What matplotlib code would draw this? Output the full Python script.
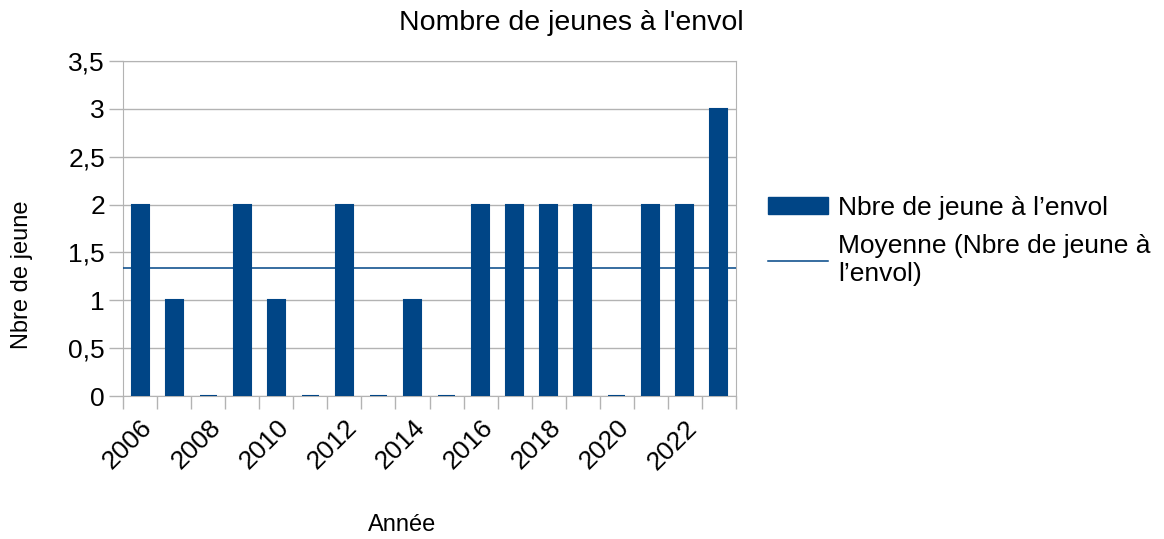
import numpy as np
import matplotlib.pyplot as plt
from matplotlib.ticker import FuncFormatter, FixedLocator
from matplotlib.lines import Line2D
from matplotlib.patches import Patch

plt.rcParams['font.family'] = ['Liberation Sans', 'DejaVu Sans']

years = list(range(2006, 2024))
jeunes = [2, 1, 0, 2, 1, 0, 2, 0, 1, 0, 2, 2, 2, 2, 0, 2, 2, 3]
moyenne = np.mean(jeunes)

bar_color = '#004586'
grid_color = '#b3b3b3'

fig = plt.figure(figsize=(11.64, 5.39), dpi=100)
ax = fig.add_axes([0.1057, 0.2653, 0.5266, 0.6215])

x = np.arange(len(years))
ax.bar(x, jeunes, width=0.5, color=bar_color, edgecolor=bar_color, linewidth=1.5, zorder=3)
ax.axhline(moyenne, color=bar_color, linewidth=1.1, zorder=4)

ax.set_xlim(-0.5, len(years) - 0.5)
ax.set_ylim(0, 3.5)
ax.set_yticks(np.arange(0, 3.51, 0.5))
ax.yaxis.set_major_formatter(FuncFormatter(lambda v, p: f'{v:g}'.replace('.', ',')))
ax.grid(axis='y', color=grid_color, linewidth=1, zorder=0)

# labels every other year, ticks at category boundaries
ax.set_xticks(x[::2])
ax.set_xticklabels([str(y) for y in years[::2]], rotation=45, ha='right',
                   rotation_mode='anchor')
ax.xaxis.set_minor_locator(FixedLocator(np.arange(-0.5, len(years), 1)))
ax.tick_params(axis='x', which='major', length=0, pad=14, labelsize=19)
ax.tick_params(axis='x', which='minor', length=9, color=grid_color, width=1)
ax.tick_params(axis='y', length=10, color=grid_color, width=1, labelsize=19, pad=3)

for s in ['top', 'right', 'bottom', 'left']:
    ax.spines[s].set_color(grid_color)

fig.text(0.491, 0.958, "Nombre de jeunes à l'envol", ha='center', va='center', fontsize=20.5)
fig.text(0.345, 0.006, 'Année', ha='center', va='bottom', fontsize=17)
fig.text(0.019, 0.49, 'Nbre de jeune', ha='center', va='center', rotation=90, fontsize=17)

handles = [Patch(facecolor=bar_color, edgecolor=bar_color),
           Line2D([0], [0], color=bar_color, linewidth=1.1)]
labels = ['Nbre de jeune à l’envol', 'Moyenne (Nbre de jeune à\nl’envol)']
fig.legend(handles, labels, loc='upper left', bbox_to_anchor=(0.6598, 0.637),
           frameon=False, fontsize=19, handlelength=2.27, handleheight=0.65,
           handletextpad=0.38, labelspacing=0.55, borderpad=0, borderaxespad=0)

fig.savefig('out.png', dpi=100)
